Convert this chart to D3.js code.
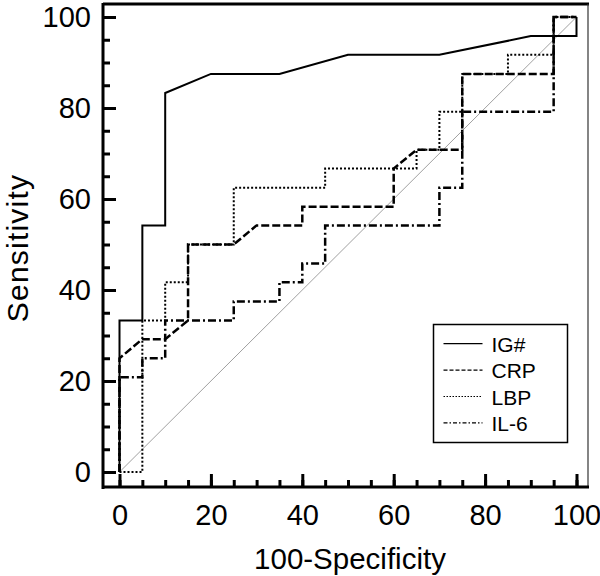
<!DOCTYPE html>
<html>
<head>
<meta charset="utf-8">
<script src="https://cdn.jsdelivr.net/npm/d3@7"></script>
<style>
  body { margin: 0; background: #fff; }
  #stage { width: 600px; height: 576px; }
</style>
</head>
<body>
<div id="stage"></div>
<script>
// ROC curves, x = 100-Specificity, y = Sensitivity
const igX = [0, 0, 5, 5, 10, 10, 20, 35, 50, 70, 90, 100, 100];
const igY = [0, 33.3, 33.3, 54.2, 54.2, 83.3, 87.5, 87.5, 91.7, 91.7, 95.8, 95.8, 100];

const crpX = [0, 0, 5, 10, 15, 15, 25, 30, 40, 40, 60, 60, 65, 75, 75, 95, 95, 100];
const crpY = [0, 25, 29.2, 29.2, 33.3, 50, 50, 54.2, 54.2, 58.3, 58.3, 66.7, 70.8, 70.8, 87.5, 87.5, 100, 100];

const lbpX = [0, 5, 5, 10, 10, 15, 15, 25, 25, 45, 45, 65, 65, 70, 70, 75, 75, 85, 85, 95, 95, 100];
const lbpY = [0, 0, 33.3, 33.3, 41.7, 41.7, 50, 50, 62.5, 62.5, 66.7, 66.7, 70.8, 70.8, 79.2, 79.2, 87.5, 87.5, 91.7, 91.7, 100, 100];

const il6X = [0, 0, 5, 5, 10, 10, 25, 25, 35, 35, 40, 40, 45, 45, 70, 70, 75, 75, 95, 95, 100];
const il6Y = [0, 20.8, 20.8, 25, 25, 33.3, 33.3, 37.5, 37.5, 41.7, 41.7, 45.8, 45.8, 54.2, 54.2, 62.5, 62.5, 79.2, 79.2, 100, 100];

const seriesNames = ["IG#", "CRP", "LBP", "IL-6"];
const majorTicks = [0, 20, 40, 60, 80, 100];
const minorTicks = d3.range(0, 101, 5);

const width = 600;
const height = 576;
const font = "'Liberation Sans', Arial, sans-serif";

const svg = d3
  .select("#stage")
  .append("svg")
  .attr("width", width)
  .attr("height", height);

const x = d3.scaleLinear().domain([0, 100]).range([119.5, 576.5]);
const y = d3.scaleLinear().domain([0, 100]).range([472, 17]);

const styles = [
  { dash: null, w: 2 },
  { dash: "8,3", w: 2.5 },
  { dash: "2,2", w: 2 },
  { dash: "8,3,2,3", w: 2.5 }
];
const legendDash = [null, "4,2", "1.5,1.5", "4,2,1.5,2"];

// reference diagonal
svg
  .append("line")
  .attr("x1", x(0))
  .attr("y1", y(0))
  .attr("x2", x(100))
  .attr("y2", y(100))
  .attr("stroke", "#888")
  .attr("stroke-width", 0.8);

const line = d3
  .line()
  .x((d) => x(d[0]))
  .y((d) => y(d[1]));

const series = [
  d3.zip(igX, igY),
  d3.zip(crpX, crpY),
  d3.zip(lbpX, lbpY),
  d3.zip(il6X, il6Y)
];

series.forEach((pts, i) => {
  svg
    .append("path")
    .attr("d", line(pts))
    .attr("fill", "none")
    .attr("stroke", "#000")
    .attr("stroke-width", styles[i].w)
    .attr("stroke-dasharray", styles[i].dash);
});

// frame
svg.append("line").attr("x1", 103).attr("x2", 589).attr("y1", 4).attr("y2", 4)
  .attr("stroke", "#000").attr("stroke-width", 3);
svg.append("line").attr("x1", 588).attr("x2", 588).attr("y1", 4).attr("y2", 488)
  .attr("stroke", "#333").attr("stroke-width", 1.2);

// axes
const yMinor = svg.append("g").attr("transform", "translate(103,0)")
  .call(d3.axisLeft(y).tickValues(minorTicks).tickSize(-7).tickFormat(""));
const yMajor = svg.append("g").attr("transform", "translate(103,0)")
  .call(d3.axisLeft(y).tickValues(majorTicks).tickSize(-13).tickPadding(12));
const xMinor = svg.append("g").attr("transform", "translate(0,487)")
  .call(d3.axisBottom(x).tickValues(minorTicks).tickSize(-7).tickFormat(""));
const xMajor = svg.append("g").attr("transform", "translate(0,487)")
  .call(d3.axisBottom(x).tickValues(majorTicks).tickSize(-13).tickPadding(0));

[yMinor, yMajor, xMinor, xMajor].forEach((g) => {
  g.select(".domain").remove();
  g.selectAll(".tick line").attr("stroke", "#000").attr("stroke-width", 3);
  g.selectAll(".tick text")
    .attr("font-family", font)
    .attr("font-size", "29px")
    .attr("fill", "#000");
});
xMajor.selectAll(".tick text").attr("dy", null).attr("y", 38);

svg.append("line").attr("x1", 103).attr("x2", 103).attr("y1", 3).attr("y2", 489)
  .attr("stroke", "#000").attr("stroke-width", 3);
svg.append("line").attr("x1", 102).attr("x2", 589).attr("y1", 487).attr("y2", 487)
  .attr("stroke", "#000").attr("stroke-width", 3);

// axis titles
svg
  .append("text")
  .attr("x", 350)
  .attr("y", 569)
  .attr("text-anchor", "middle")
  .attr("font-family", font)
  .attr("font-size", "29.5px")
  .text("100-Specificity");

svg
  .append("text")
  .attr("transform", "translate(27.5,248) rotate(-90)")
  .attr("text-anchor", "middle")
  .attr("font-family", font)
  .attr("font-size", "30px")
  .attr("letter-spacing", "1.2px")
  .text("Sensitivity");

// legend
const legend = svg.append("g");
legend
  .append("rect")
  .attr("x", 433.5)
  .attr("y", 324.5)
  .attr("width", 134)
  .attr("height", 118)
  .attr("fill", "#fff")
  .attr("stroke", "#000")
  .attr("stroke-width", 1.5);

seriesNames.forEach((name, i) => {
  const by = 351.7 + i * 26.4;
  legend
    .append("line")
    .attr("x1", 443.5)
    .attr("x2", 482.5)
    .attr("y1", by - 8)
    .attr("y2", by - 8)
    .attr("stroke", "#000")
    .attr("stroke-width", 1.2)
    .attr("stroke-dasharray", legendDash[i]);
  legend
    .append("text")
    .attr("x", 491.5)
    .attr("y", by)
    .attr("font-family", font)
    .attr("font-size", "21px")
    .text(name);
});
</script>
</body>
</html>
